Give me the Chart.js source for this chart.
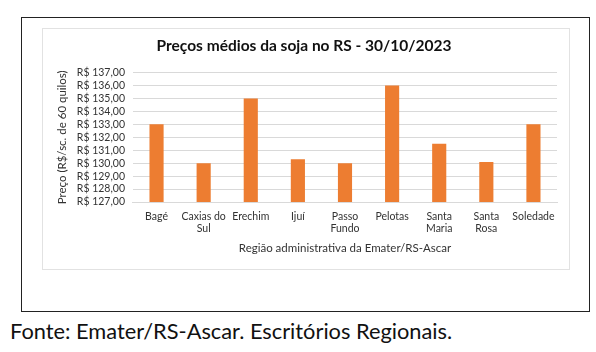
<!DOCTYPE html>
<html>
<head>
<meta charset="utf-8">
<script src="https://cdn.jsdelivr.net/npm/chart.js@4"></script>
<style>
    body { margin: 0; background: #fff; width: 596px; height: 352px; position: relative; font-family: Lato, sans-serif; }
    #frame { position: absolute; left: 21px; top: 17px; width: 567px; height: 293px; border: 1.5px solid #222; }
    #chartBox { position: absolute; left: 42px; top: 28px; width: 526px; height: 240px; border: 1px solid #e2e2e2; }
    #source { position: absolute; left: 10px; top: 317px; font-size: 21.8px; color: #111; white-space: nowrap; }
</style>
</head>
<body>
<div id="frame"></div>
<div id="chartBox"><canvas id="sojaChart" width="526" height="240"></canvas></div>
<div id="source">Fonte: Emater/RS-Ascar. Escritórios Regionais.</div>
<script>
const regions = ['Bagé', ['Caxias do', 'Sul'], 'Erechim', 'Ijuí', ['Passo', 'Fundo'], 'Pelotas', ['Santa', 'Maria'], ['Santa', 'Rosa'], 'Soledade'];
const prices = [133, 130, 135, 130.3, 130, 136, 131.5, 130.1, 133];
const yMin = 127;
const yMax = 137;

const ctx = document.getElementById('sojaChart');
new Chart(ctx, {
    type: 'bar',
    data: {
        labels: regions,
        datasets: [{
            data: prices,
            backgroundColor: '#ed7d31',
            categoryPercentage: 1,
            barPercentage: 0.3
        }]
    },
    options: {
        responsive: false,
        animation: false,
        layout: { padding: { left: 8, right: 12, top: 0, bottom: 10 } },
        plugins: {
            legend: { display: false },
            tooltip: { enabled: false },
            title: {
                display: true,
                text: 'Preços médios da soja no RS - 30/10/2023',
                color: '#111',
                font: { family: 'Lato', size: 15.5, weight: 'bold' },
                padding: { top: 8, bottom: 17 }
            }
        },
        scales: {
            y: {
                min: yMin,
                max: yMax,
                ticks: {
                    stepSize: 1,
                    autoSkip: false,
                    color: '#333',
                    font: { family: 'Lato', size: 10.5 },
                    padding: 8,
                    callback: v => 'R$ ' + v.toFixed(2).replace('.', ',')
                },
                grid: { color: '#d9d9d9', drawTicks: false },
                border: { display: false },
                title: {
                    display: true,
                    text: 'Preço (R$/sc. de 60 quilos)',
                    color: '#333',
                    font: { family: 'Lato', size: 11.5 },
                    padding: { bottom: 0 }
                }
            },
            x: {
                ticks: {
                    color: '#333',
                    font: { family: 'Lato', size: 10.5 },
                    maxRotation: 0,
                    autoSkip: false,
                    padding: 0
                },
                grid: { display: false },
                border: { color: '#d9d9d9' },
                title: {
                    display: true,
                    text: 'Região administrativa da Emater/RS-Ascar',
                    color: '#333',
                    font: { family: 'Lato', size: 11.5 },
                    padding: { top: 6 }
                }
            }
        }
    }
});
</script>
</body>
</html>
